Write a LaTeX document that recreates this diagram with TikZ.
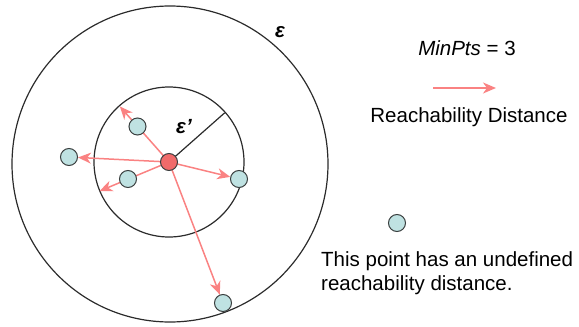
\documentclass[tikz,border=0pt]{standalone}
\usepackage{fontspec}
\setmainfont{Liberation Sans}
\usetikzlibrary{arrows.meta, backgrounds}

\begin{document}
\begin{tikzpicture}[x=1pt, y=-1pt, font=\fontsize{20.5}{24}\selectfont,
    ring/.style={draw=ringColour, line width=1.2pt},
    point/.style={circle, draw=pointBorder, fill=pointFill, line width=1pt, minimum size=17pt, inner sep=0pt},
    core/.style={circle, draw=pointBorder, fill=coreFill, line width=1pt, minimum size=17pt, inner sep=0pt},
    reach/.style={draw=arrowColour, line width=1.5pt, -{Stealth[length=13pt, width=11pt, inset=4pt]}}]
    % Define colours
    \definecolor{ringColour}{HTML}{2B2B2B}
    \definecolor{pointBorder}{HTML}{3A3F3F}
    \definecolor{pointFill}{HTML}{BFE2E2}
    \definecolor{coreFill}{HTML}{F06A6A}
    \definecolor{arrowColour}{HTML}{FA8282}

    % Fix the frame
    \useasboundingbox (0,0) rectangle (579,327);

    % Core point and its neighbours
    \node[core] (core) at (169,162) {};
    \node[point] (p1) at (137.5,126.5) {};
    \node[point] (p2) at (69,157) {};
    \node[point] (p3) at (128,179) {};
    \node[point] (p4) at (239,179) {};
    \node[point] (p5) at (223,303) {};
    \node[point] (p6) at (397,223) {};

    % Ends of the arrows that reach the inner circle
    \coordinate (e1) at (119.8,106.4);
    \coordinate (e3) at (99.5,191.1);
    \coordinate (r) at (224.7,112.8);

    % Circles, radius and reachability arrows behind the points
    \begin{scope}[on background layer]
        \draw[ring] (170,164) circle[radius=158pt];
        \draw[ring] (core.center) circle[radius=75pt];
        \draw[ring] (core.center) -- (r);
        \draw[reach] (core.center) -- (e1);
        \draw[reach] (core.center) -- (p2);
        \draw[reach] (core.center) -- (e3);
        \draw[reach] (core.center) -- (p4);
        \draw[reach] (core.center) -- (p5);
    \end{scope}

    % Radius labels
    \node (eps) at (280,32) {\bfseries\itshape ε};
    \node (epsPrime) at (184,127) {\bfseries\itshape ε’};

    % Legend
    \node (minPts) at (467,48) {\textit{MinPts} = 3};
    \coordinate (legA) at (433,88);
    \coordinate (legB) at (496,88);
    \draw[reach] (legA) -- (legB);
    \node (legText) at (469,117) {Reachability Distance};

    % Note on the lone point
    \node[anchor=west, align=left, inner sep=0pt] (note) at (321,273)
        {This point has an undefined\\reachability distance.};
\end{tikzpicture}
\end{document}
